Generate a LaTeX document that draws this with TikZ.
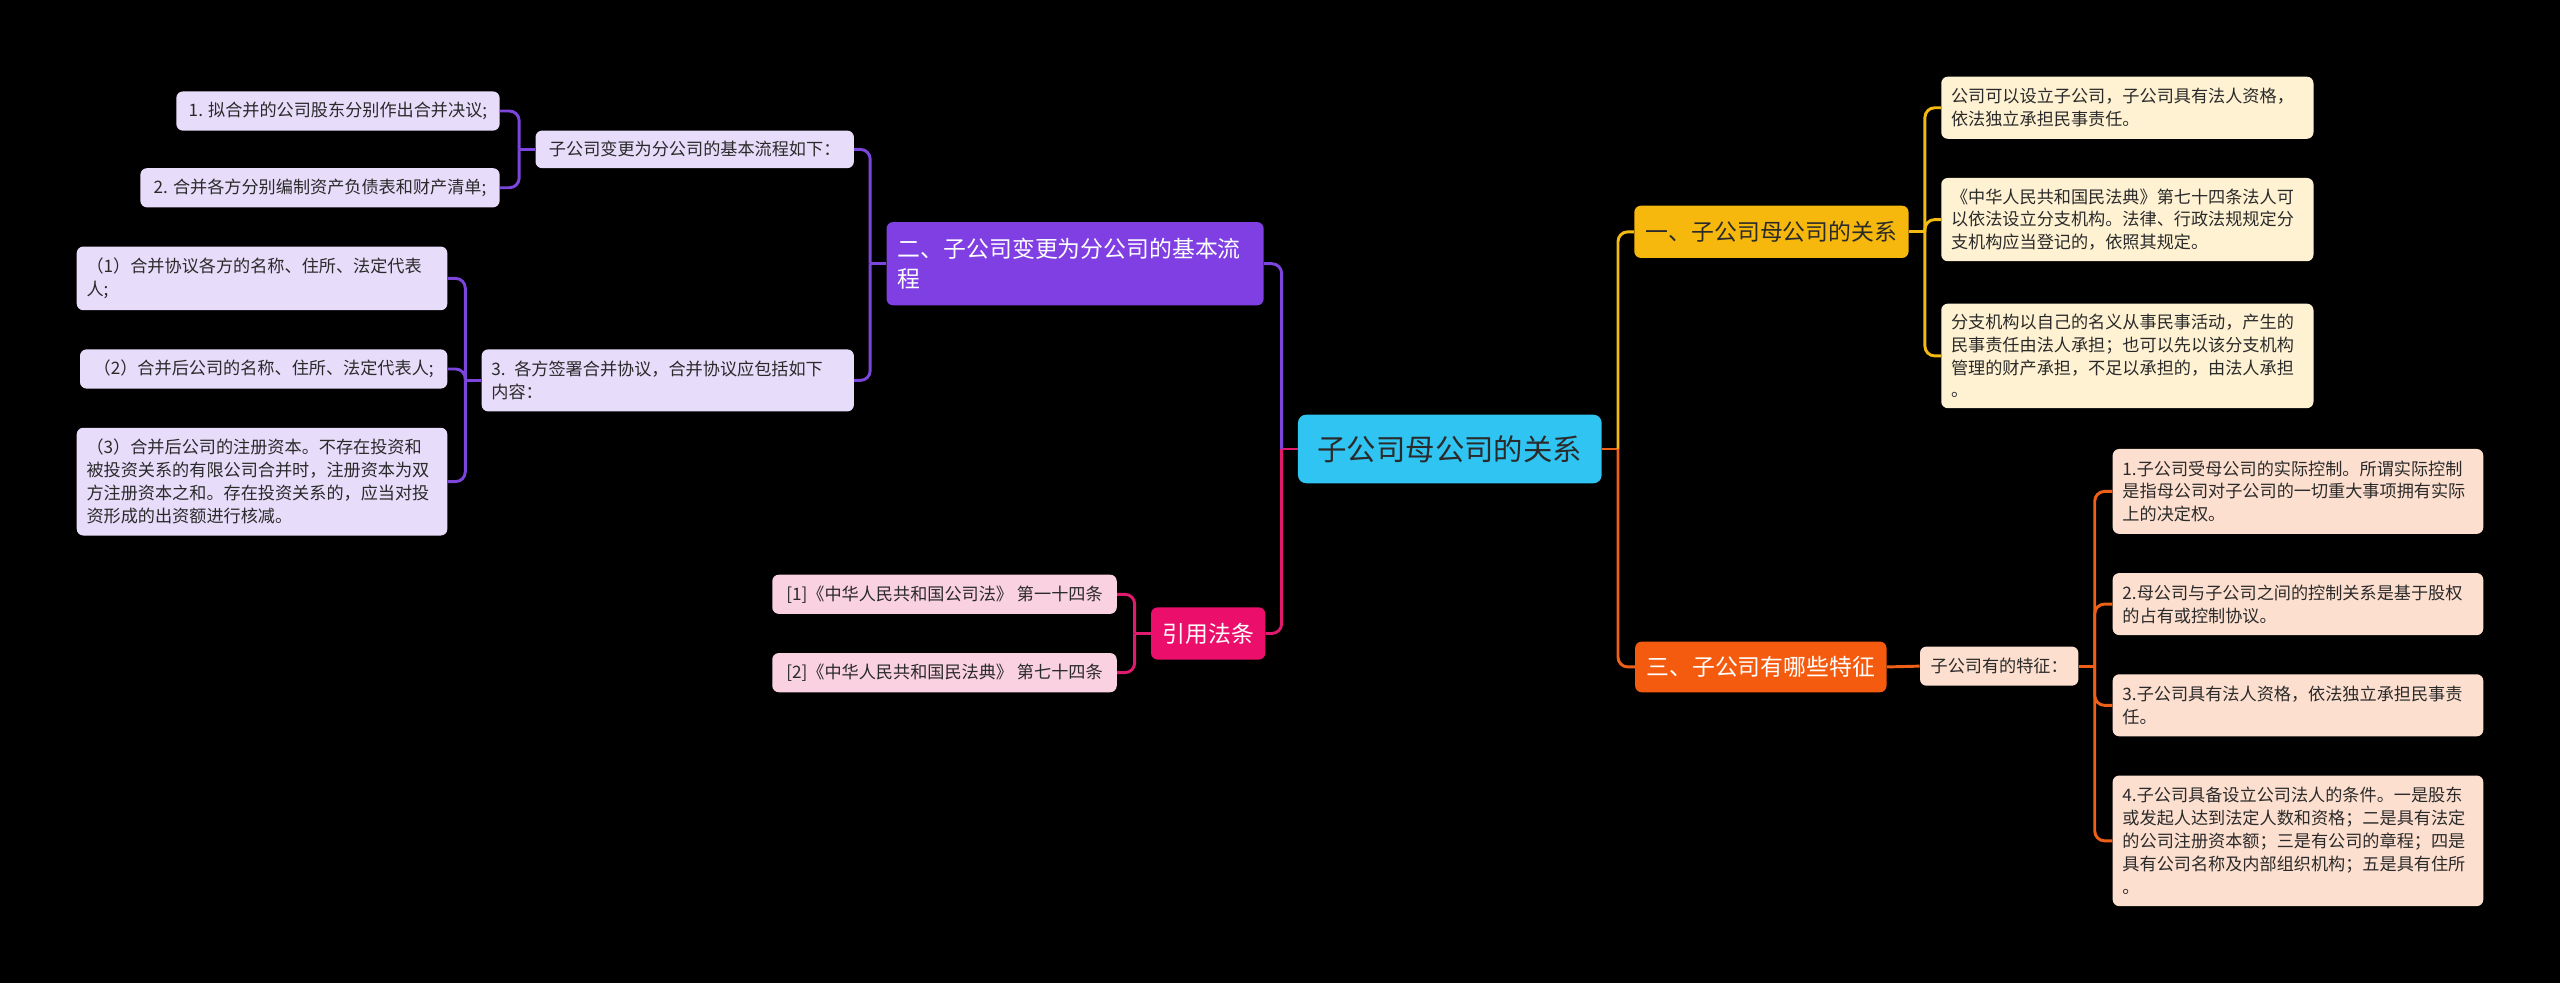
\documentclass[tikz,border=0pt]{standalone}
\usepackage{fontspec}
\setmainfont{Noto Sans CJK SC}
\definecolor{rootc}{HTML}{2FC4F2}
\definecolor{yb}{HTML}{F6B80C}
\definecolor{yl}{HTML}{FFF2D3}
\definecolor{yline}{HTML}{F2BA12}
\definecolor{ob}{HTML}{F55B0F}
\definecolor{ol}{HTML}{FDDFCF}
\definecolor{oline}{HTML}{EE6018}
\definecolor{pb}{HTML}{7F3FE3}
\definecolor{pl}{HTML}{E7DCFA}
\definecolor{pline}{HTML}{7C45DB}
\definecolor{rb}{HTML}{EB0F6B}
\definecolor{rl}{HTML}{FAD1E1}
\definecolor{rline}{HTML}{E01A6C}
\definecolor{txt}{HTML}{2A2A2A}
\tikzset{
  boxbase/.style={rounded corners=4pt, inner xsep=6pt, inner ysep=0pt, align=left,
    font=\fontsize{10.5}{14}\selectfont, text=txt},
  leafY/.style={boxbase, fill=yl},
  leafO/.style={boxbase, fill=ol},
  leafP/.style={boxbase, fill=pl},
  leafR/.style={boxbase, fill=rl},
  branchbox/.style={rounded corners=4pt, inner xsep=7pt, inner ysep=0pt, align=center,
    font=\fontsize{14}{18}\selectfont},
  conn/.style={line width=1.8pt, rounded corners=6pt},
  cY/.style={conn, draw=yline},
  cO/.style={conn, draw=oline},
  cP/.style={conn, draw=pline},
  cR/.style={conn, draw=rline}
}
\begin{document}
\begin{tikzpicture}[x=1pt,y=-1pt]
\fill[black] (0,0) rectangle (1568,602);
\useasboundingbox (0,0) rectangle (1568,602);

% root
\node[rounded corners=5pt, fill=rootc, text=txt, minimum width=186pt, minimum height=42pt,
  inner sep=0pt, font=\fontsize{18}{22}\selectfont] (root) at (888,275) {子公司母公司的关系};

% branch 1
\node[branchbox, fill=yb, text=txt, minimum width=166pt, minimum height=32pt] (b1) at (1085,142) {一、子公司母公司的关系};
\node[leafY, text width=216pt, minimum height=38pt] (y1) at (1303,66)
  {公司可以设立子公司，子公司具有法人资格，\\依法独立承担民事责任。};
\node[leafY, text width=216pt, minimum height=51pt] (y2) at (1303,134.5)
  {《中华人民共和国民法典》第七十四条法人可\\以依法设立分支机构。法律、行政法规规定分\\支机构应当登记的，依照其规定。};
\node[leafY, text width=216pt, minimum height=64pt] (y3) at (1303,218)
  {分支机构以自己的名义从事民事活动，产生的\\民事责任由法人承担；也可以先以该分支机构\\管理的财产承担，不足以承担的，由法人承担\\。};

% branch 3
\node[branchbox, fill=ob, text=white, minimum width=153pt, minimum height=31pt] (b3) at (1078.5,408.5) {三、子公司有哪些特征};
\node[leafO, minimum width=97pt, minimum height=24pt] (s3) at (1224.5,408) {子公司有的特征：};
\node[leafO, text width=215pt, minimum height=52pt] (f1) at (1407.5,301)
  {1.子公司受母公司的实际控制。所谓实际控制\\是指母公司对子公司的一切重大事项拥有实际\\上的决定权。};
\node[leafO, text width=215pt, minimum height=38pt] (f2) at (1407.5,370)
  {2.母公司与子公司之间的控制关系是基于股权\\的占有或控制协议。};
\node[leafO, text width=215pt, minimum height=38pt] (f3) at (1407.5,432)
  {3.子公司具有法人资格，依法独立承担民事责\\任。};
\node[leafO, text width=215pt, minimum height=80pt] (f4) at (1407.5,515)
  {4.子公司具备设立公司法人的条件。一是股东\\或发起人达到法定人数和资格；二是具有法定\\的公司注册资本额；三是有公司的章程；四是\\具有公司名称及内部组织机构；五是具有住所\\。};

% branch 2
\node[branchbox, align=left, fill=pb, text=white, text width=217pt, minimum height=51pt] (b2) at (658.5,161.5)
  {二、子公司变更为分公司的基本流\\程};
\node[leafP, minimum width=195pt, minimum height=23pt] (pa) at (425.5,91.5) {子公司变更为分公司的基本流程如下：};
\node[leafP, minimum width=198pt, minimum height=24pt] (pa1) at (207,68) {1. 拟合并的公司股东分别作出合并决议;};
\node[leafP, minimum width=220pt, minimum height=24pt] (pa2) at (196,115) {2. 合并各方分别编制资产负债表和财产清单;};
\node[leafP, text width=216pt, minimum height=38pt] (pb) at (409,233)
  {3. 各方签署合并协议，合并协议应包括如下\\内容：};
\node[leafP, text width=215pt, minimum height=39pt] (pb1) at (160.5,170.5)
  {（1）合并协议各方的名称、住所、法定代表\\人;};
\node[leafP, minimum width=225pt, minimum height=24pt] (pb2) at (161.5,226)
  {（2）合并后公司的名称、住所、法定代表人;};
\node[leafP, text width=215pt, minimum height=66pt] (pb3) at (160.5,295)
  {（3）合并后公司的注册资本。不存在投资和\\被投资关系的有限公司合并时，注册资本为双\\方注册资本之和。存在投资关系的，应当对投\\资形成的出资额进行核减。};

% branch 4
\node[branchbox, fill=rb, text=white, minimum width=70pt, minimum height=32pt] (b4) at (740,388) {引用法条};
\node[leafR, minimum width=211pt, minimum height=24pt] (r1) at (578.5,364) {[1]《中华人民共和国公司法》 第一十四条};
\node[leafR, minimum width=211pt, minimum height=24pt] (r2) at (578.5,412) {[2]《中华人民共和国民法典》 第七十四条};

% junctions
\coordinate (jR) at (991,275);
\coordinate (jL) at (785,275);
\coordinate (j1) at (1179,142);
\coordinate (j3) at (1283,408);
\coordinate (j2) at (533,161.5);
\coordinate (jA) at (318,91.5);
\coordinate (jB) at (285,233);
\coordinate (j4) at (695,388);

% connectors right
\draw[cO] (root.east) -- (jR);
\draw[cY] (jR) |- (b1.west);
\draw[cO] (jR) |- (b3.west);
\draw[cY] (b1.east) -- (j1);
\draw[cY] (j1) |- (y1.west);
\draw[cY] (j1) |- (y2.west);
\draw[cY] (j1) |- (y3.west);
\draw[cO] (b3.east) -- (s3.west);
\draw[cO] (s3.east) -- (j3);
\draw[cO] (j3) |- (f1.west);
\draw[cO] (j3) |- (f2.west);
\draw[cO] (j3) |- (f3.west);
\draw[cO] (j3) |- (f4.west);

% connectors left
\draw[cR] (root.west) -- (jL);
\draw[cP] (jL) |- (b2.east);
\draw[cR] (jL) |- (b4.east);
\draw[cP] (b2.west) -- (j2);
\draw[cP] (j2) |- (pa.east);
\draw[cP] (j2) |- (pb.east);
\draw[cP] (pa.west) -- (jA);
\draw[cP] (jA) |- (pa1.east);
\draw[cP] (jA) |- (pa2.east);
\draw[cP] (pb.west) -- (jB);
\draw[cP] (jB) |- (pb1.east);
\draw[cP] (jB) |- (pb2.east);
\draw[cP] (jB) |- (pb3.east);
\draw[cR] (b4.west) -- (j4);
\draw[cR] (j4) |- (r1.east);
\draw[cR] (j4) |- (r2.east);
\end{tikzpicture}
\end{document}
